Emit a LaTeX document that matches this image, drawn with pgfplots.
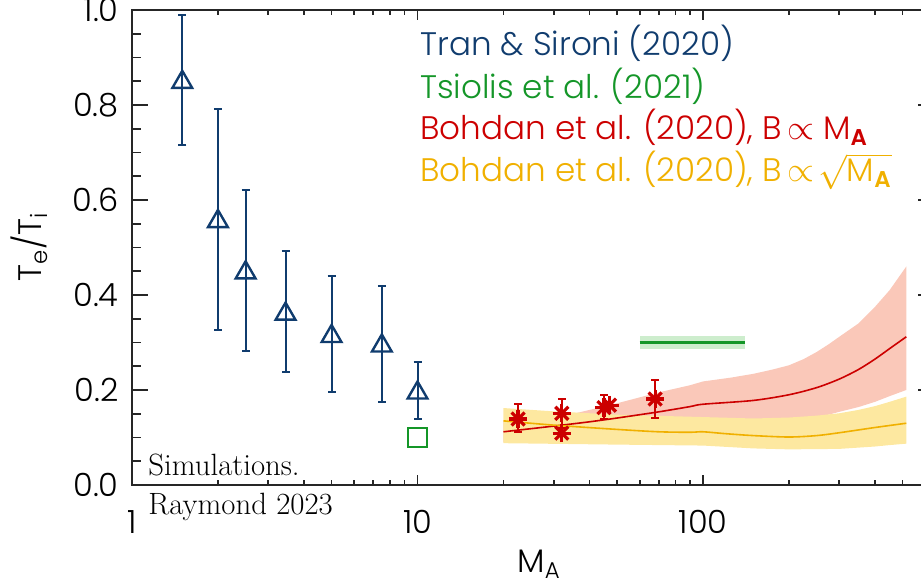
\documentclass[border=0pt]{standalone}
\usepackage{fontspec}
\setmainfont{Poppins}[UprightFont={* Light}]
\newfontfamily\dejavu{DejaVu Sans}
\newfontfamily\lmr{Latin Modern Roman}
\usepackage{pgfplots}
\pgfplotsset{compat=1.18}
\definecolor{navy}{RGB}{16,60,110}
\definecolor{grn}{RGB}{20,150,40}
\definecolor{grnband}{RGB}{205,237,205}
\definecolor{rd}{RGB}{204,0,0}
\definecolor{rdband}{RGB}{250,200,185}
\definecolor{yl}{RGB}{240,176,0}
\definecolor{ylband}{RGB}{253,232,160}
\newcommand{\tf}{\fontsize{16}{19}\selectfont}
\newcommand{\lf}{\fontsize{16.3}{19}\selectfont}
\begin{document}
\begin{tikzpicture}
\useasboundingbox (-66pt,-48pt) rectangle (394.5pt,242.5pt);
\clip (-66pt,-48pt) rectangle (394.5pt,242.5pt);
\begin{axis}[
  at={(0,0)}, anchor=south west, scale only axis,
  width=401pt, height=237.5pt,
  xmode=log, xmin=1, xmax=644, ymin=0, ymax=1,
  axis line style={line width=0.8pt, black!85},
  tick style={line width=0.8pt, black!85},
  tick align=inside,
  ticklabel style={font=\tf},
  /pgf/number format/assume math mode=true,
  xtick={1,10,100}, xticklabels={1,10,100},
  minor xtick={2,3,4,5,6,7,8,9,20,30,40,50,60,70,80,90,200,300,400,500,600},
  ytick=\empty,
  major tick length=5pt, minor tick length=2.5pt,
  xticklabel style={anchor=north, inner sep=0pt, yshift=-12.5pt},
]
% red band
\addplot[fill=rdband, draw=none] coordinates {(20,0.135) (30,0.14) (40,0.158) (50,0.172) (70,0.195) (90,0.21) (100,0.218) (125,0.226) (150,0.234) (175,0.243) (200,0.252) (225,0.265) (250,0.28) (275,0.296) (300,0.312) (350,0.34) (400,0.375) (450,0.41) (515,0.46)
 (515,0.2) (450,0.187) (400,0.175) (350,0.164) (300,0.154) (275,0.148) (250,0.143) (225,0.14) (200,0.138) (150,0.135) (100,0.13) (50,0.115) (30,0.1) (20,0.09)};
% yellow band
\addplot[fill=ylband, draw=none] coordinates {(20,0.162) (30,0.155) (50,0.148) (100,0.143) (150,0.14) (200,0.142) (250,0.146) (300,0.151) (350,0.158) (400,0.166) (450,0.175) (515,0.186)
 (515,0.087) (450,0.084) (400,0.081) (300,0.076) (200,0.075) (150,0.077) (100,0.083) (50,0.085) (20,0.088)};
% green band and line
\addplot[fill=grnband, draw=none] coordinates {(60,0.314) (140,0.314) (140,0.286) (60,0.286)};
\addplot[grn, line width=1.3pt] coordinates {(60,0.3) (140,0.3)};
% lines
\addplot[rd, line width=0.8pt, smooth] coordinates {(20,0.112) (30,0.124) (40,0.133) (50,0.141) (70,0.154) (90,0.165) (100,0.17) (150,0.178) (200,0.19) (250,0.205) (300,0.223) (350,0.243) (400,0.265) (450,0.287) (515,0.312)};
\addplot[yl, line width=0.8pt, smooth] coordinates {(20,0.135) (30,0.126) (50,0.117) (70,0.112) (90,0.111) (100,0.112) (120,0.108) (150,0.104) (200,0.101) (250,0.104) (300,0.11) (400,0.121) (515,0.13)};
% Tran & Sironi
\addplot[navy, only marks, mark=triangle, mark size=5.7pt, mark options={line width=1.2pt},
  error bars/.cd, y dir=both, y explicit,
  error bar style={line width=1pt, navy},
  error mark options={rotate=90, mark size=2pt, line width=1pt, navy}]
  coordinates {
  (1.5,0.848) += (0,0.142) -= (0,0.132)
  (2.0,0.555) += (0,0.237) -= (0,0.229)
  (2.5,0.447) += (0,0.174) -= (0,0.165)
  (3.45,0.36) += (0,0.133) -= (0,0.122)
  (5.0,0.313) += (0,0.127) -= (0,0.117)
  (7.5,0.293) += (0,0.126) -= (0,0.118)
  (10,0.194) += (0,0.065) -= (0,0.055)
  };
% Tsiolis square
\addplot[grn, only marks, mark=square, mark size=4.75pt, mark options={line width=1pt}] coordinates {(10,0.1)};
% Bohdan points
\addplot[rd, only marks, mark=+, mark size=4.6pt, mark options={line width=1.6pt},
  error bars/.cd, y dir=both, y explicit,
  error bar style={line width=1pt, rd},
  error mark options={rotate=90, mark size=2pt, line width=1pt, rd}]
  coordinates {
  (22.5,0.139) += (0,0.032) -= (0,0.027)
  (32,0.151) += (0,0.03) -= (0,0.03)
  (45,0.163) += (0,0.027) -= (0,0.024)
  (68,0.181) += (0,0.04) -= (0,0.04)
  };
\addplot[rd, only marks, mark=x, mark size=4.6pt, mark options={line width=1.6pt}]
  coordinates {(22.5,0.139) (32,0.151) (45,0.163) (68,0.181)};
\addplot[rd, only marks, mark=+, mark size=4.6pt, mark options={line width=1.6pt}]
  coordinates {(32,0.109) (47,0.168)};
\addplot[rd, only marks, mark=x, mark size=4.6pt, mark options={line width=1.6pt}]
  coordinates {(32,0.109) (47,0.168)};
\end{axis}
\begin{axis}[
  at={(0,0)}, anchor=south west, scale only axis,
  width=401pt, height=237.5pt,
  xmode=log, xmin=1, xmax=644, ymin=0, ymax=1,
  axis line style={line width=0.8pt, black!85},
  tick style={line width=0.8pt, black!85},
  tick align=inside,
  ticklabel style={font=\tf},
  /pgf/number format/assume math mode=true,
  xtick=\empty,
  ytick={0,0.2,0.4,0.6,0.8,1.0},
  minor y tick num=3,
  major tick length=8pt, minor tick length=4.5pt,
  yticklabel style={anchor=east, inner sep=0pt, xshift=-6.5pt,
    /pgf/number format/.cd, fixed, fixed zerofill, precision=1},
]
\addplot[draw=none] coordinates {(1,0)};
\end{axis}
% axis labels
\node[rotate=90, anchor=base, inner sep=0pt, font=\lf] at (-45pt,119pt) {T\textsubscript{e}/T\textsubscript{i}};
\node[anchor=base west, inner sep=0pt, font=\lf] at (192.5pt,-44pt) {M\textsubscript{A}};
% legend texts
\node[anchor=base west, inner sep=0pt, font=\lf, text=navy] at (144pt,214.5pt) {Tran \& Sironi (2020)};
\node[anchor=base west, inner sep=0pt, font=\lf, text=grn] at (144pt,193pt) {Tsiolis et al. (2021)};
\node[anchor=base west, inner sep=0pt, font=\lf, text=rd] at (144pt,172.5pt) {Bohdan et al. (2020), B\,$\propto$\ M\textsubscript{\textbf{A}}};
\node[anchor=base west, inner sep=0pt, font=\lf, text=yl] at (144pt,151.5pt) {Bohdan et al. (2020), B\,$\propto\!\sqrt{\mbox{\lf M\textsubscript{\textbf{A}}}}$};
% annotation
\node[anchor=base west, inner sep=0pt, font=\lmr\fontsize{15.4}{19}\selectfont] at (8pt,4.5pt) {Simulations.};
\node[anchor=base west, inner sep=0pt, font=\lmr\fontsize{15.4}{19}\selectfont] at (8pt,-15pt) {Raymond 2023};
\end{tikzpicture}
\end{document}
